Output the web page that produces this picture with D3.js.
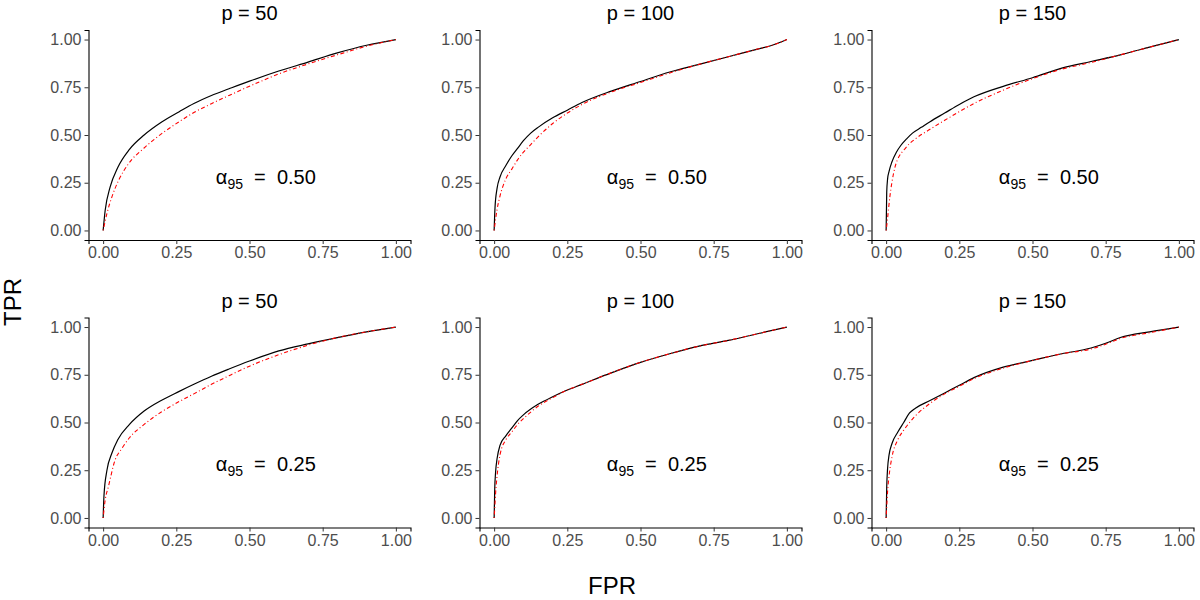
<!DOCTYPE html>
<html>
<head>
<meta charset="utf-8">
<script src="https://cdn.jsdelivr.net/npm/d3@7"></script>
<style>
  body { margin: 0; background: #fff; }
  svg { font-family: "Liberation Sans", Arial, sans-serif; }
  svg .tick text { font-size: 16px; }
</style>
</head>
<body>
<svg id="chart" width="1200" height="600"></svg>
<script>
// facet labels
var pValues = [50, 100, 150];
var alphaLabels = ["0.50", "0.25"];
var axisTicks = [0, 0.25, 0.5, 0.75, 1];

// row 1, alpha95 = 0.50
var p50a50SolidFpr = [0, 0.007, 0.024, 0.05, 0.09, 0.14, 0.2, 0.26, 0.31, 0.37, 0.43, 0.5, 0.6, 0.7, 0.8, 0.9, 1];
var p50a50SolidTpr = [0, 0.106, 0.228, 0.33, 0.425, 0.50, 0.568, 0.622, 0.665, 0.707, 0.742, 0.782, 0.835, 0.882, 0.93, 0.97, 1];
var p50a50DashFpr  = [0, 0.013, 0.03, 0.053, 0.087, 0.14, 0.2, 0.26, 0.31, 0.37, 0.43, 0.54, 0.6, 0.7, 0.8, 0.9, 1];
var p50a50DashTpr  = [0, 0.089, 0.176, 0.263, 0.35, 0.432, 0.507, 0.57, 0.618, 0.664, 0.707, 0.782, 0.82, 0.872, 0.92, 0.965, 1];

var p100a50SolidFpr = [0, 0.003, 0.01, 0.02, 0.04, 0.06, 0.08, 0.1, 0.125, 0.15, 0.2, 0.25, 0.3, 0.4, 0.5, 0.6, 0.7, 0.8, 0.9, 0.95, 1];
var p100a50SolidTpr = [0, 0.12, 0.22, 0.28, 0.34, 0.39, 0.43, 0.47, 0.51, 0.54, 0.59, 0.63, 0.67, 0.73, 0.78, 0.83, 0.87, 0.91, 0.95, 0.97, 1];
var p100a50DashFpr  = [0, 0.005, 0.01, 0.02, 0.04, 0.06, 0.08, 0.1, 0.125, 0.15, 0.2, 0.25, 0.3, 0.4, 0.5, 0.6, 0.7, 0.8, 0.9, 0.95, 1];
var p100a50DashTpr  = [0, 0.06, 0.11, 0.18, 0.27, 0.32, 0.37, 0.41, 0.45, 0.49, 0.56, 0.615, 0.66, 0.725, 0.775, 0.825, 0.87, 0.91, 0.95, 0.97, 1];

var p150a50SolidFpr = [0, 0.002, 0.005, 0.01, 0.02, 0.035, 0.05, 0.07, 0.09, 0.12, 0.15, 0.2, 0.25, 0.3, 0.4, 0.5, 0.6, 0.7, 0.8, 0.9, 1];
var p150a50SolidTpr = [0, 0.20, 0.27, 0.31, 0.36, 0.41, 0.445, 0.48, 0.51, 0.54, 0.57, 0.615, 0.66, 0.70, 0.755, 0.80, 0.85, 0.885, 0.92, 0.96, 1];
var p150a50DashFpr  = [0, 0.004, 0.008, 0.013, 0.019, 0.03, 0.045, 0.06, 0.08, 0.1, 0.15, 0.2, 0.25, 0.3, 0.4, 0.5, 0.6, 0.7, 0.8, 0.9, 1];
var p150a50DashTpr  = [0, 0.05, 0.11, 0.18, 0.245, 0.33, 0.39, 0.42, 0.455, 0.48, 0.53, 0.577, 0.622, 0.665, 0.735, 0.795, 0.845, 0.88, 0.92, 0.96, 1];

// row 2, alpha95 = 0.25
var p50a25SolidFpr = [0, 0.003, 0.013, 0.03, 0.05, 0.09, 0.14, 0.2, 0.26, 0.31, 0.37, 0.43, 0.5, 0.6, 0.7, 0.8, 0.9, 1];
var p50a25SolidTpr = [0, 0.12, 0.25, 0.34, 0.41, 0.49, 0.56, 0.617, 0.663, 0.70, 0.742, 0.78, 0.822, 0.875, 0.912, 0.945, 0.975, 1];
var p50a25DashFpr  = [0, 0.007, 0.018, 0.04, 0.064, 0.09, 0.14, 0.2, 0.26, 0.31, 0.37, 0.43, 0.5, 0.6, 0.7, 0.8, 0.9, 1];
var p50a25DashTpr  = [0, 0.094, 0.164, 0.30, 0.364, 0.42, 0.49, 0.556, 0.61, 0.65, 0.70, 0.745, 0.795, 0.855, 0.905, 0.945, 0.975, 1];

var p100a25Fpr      = [0, 0.002, 0.005, 0.01, 0.02, 0.04, 0.06, 0.08, 0.1, 0.15, 0.2, 0.25, 0.3, 0.4, 0.5, 0.6, 0.7, 0.8, 0.9, 1];
var p100a25SolidTpr = [0, 0.15, 0.24, 0.31, 0.38, 0.43, 0.47, 0.51, 0.54, 0.595, 0.635, 0.67, 0.70, 0.76, 0.815, 0.86, 0.90, 0.93, 0.965, 1];
var p100a25DashTpr  = [0, 0.05, 0.13, 0.22, 0.33, 0.41, 0.45, 0.49, 0.52, 0.585, 0.63, 0.67, 0.70, 0.76, 0.815, 0.86, 0.90, 0.93, 0.965, 1];

var p150a25Fpr      = [0, 0.002, 0.005, 0.01, 0.02, 0.04, 0.06, 0.08, 0.1, 0.15, 0.2, 0.25, 0.3, 0.4, 0.5, 0.6, 0.7, 0.75, 0.8, 0.9, 1];
var p150a25SolidTpr = [0, 0.16, 0.26, 0.33, 0.39, 0.45, 0.50, 0.55, 0.575, 0.615, 0.655, 0.695, 0.735, 0.79, 0.825, 0.86, 0.89, 0.915, 0.945, 0.975, 1];
var p150a25DashTpr  = [0, 0.06, 0.14, 0.22, 0.32, 0.41, 0.46, 0.50, 0.535, 0.60, 0.65, 0.69, 0.73, 0.785, 0.825, 0.86, 0.885, 0.91, 0.94, 0.97, 1];

function zip(xs, ys) {
    return xs.map(function (x, i) { return { x: x, y: ys[i] }; });
}

var panels = [
    { row: 0, col: 0, solid: zip(p50a50SolidFpr, p50a50SolidTpr), dash: zip(p50a50DashFpr, p50a50DashTpr) },
    { row: 0, col: 1, solid: zip(p100a50SolidFpr, p100a50SolidTpr), dash: zip(p100a50DashFpr, p100a50DashTpr) },
    { row: 0, col: 2, solid: zip(p150a50SolidFpr, p150a50SolidTpr), dash: zip(p150a50DashFpr, p150a50DashTpr) },
    { row: 1, col: 0, solid: zip(p50a25SolidFpr, p50a25SolidTpr), dash: zip(p50a25DashFpr, p50a25DashTpr) },
    { row: 1, col: 1, solid: zip(p100a25Fpr, p100a25SolidTpr), dash: zip(p100a25Fpr, p100a25DashTpr) },
    { row: 1, col: 2, solid: zip(p150a25Fpr, p150a25SolidTpr), dash: zip(p150a25Fpr, p150a25DashTpr) }
];

// panel geometry
var colLeft = [88.5, 479.5, 871.5];
var rowTop = [30, 317.5];
var panelW = 322;
var panelH = 210;

var svg = d3.select("#chart");

function styleAxis(a) {
    a.attr("font-family", "Liberation Sans, Arial, sans-serif").attr("font-size", 16);
    a.selectAll(".domain").attr("stroke", "#000").attr("stroke-width", 1.1);
    a.selectAll(".tick line").attr("stroke", "#333");
    a.selectAll(".tick text")
        .attr("font-size", 16)
        .attr("fill", "#4d4d4d");
}

panels.forEach(function (p) {
    var left = colLeft[p.col];
    var top = rowTop[p.row];

    var x = d3.scaleLinear().domain([-0.05, 1.05]).range([0, panelW]);
    var y = d3.scaleLinear().domain([-0.05, 1.05]).range([panelH, 0]);

    var g = svg.append("g").attr("transform", "translate(" + left + "," + top + ")");

    g.append("g")
        .attr("transform", "translate(0," + panelH + ")")
        .call(d3.axisBottom(x).tickValues(axisTicks).tickFormat(d3.format(".2f")).tickSizeOuter(0).tickSize(4).tickPadding(3))
        .call(styleAxis);

    g.append("g")
        .call(d3.axisLeft(y).tickValues(axisTicks).tickFormat(d3.format(".2f")).tickSizeOuter(0).tickSize(4).tickPadding(3))
        .call(styleAxis);

    var line = d3.line()
        .x(function (d) { return x(d.x); })
        .y(function (d) { return y(d.y); })
        .curve(d3.curveMonotoneX);

    g.append("path")
        .datum(p.solid)
        .attr("d", line)
        .attr("fill", "none")
        .attr("stroke", "#000")
        .attr("stroke-width", 1.2);

    g.append("path")
        .datum(p.dash)
        .attr("d", line)
        .attr("fill", "none")
        .attr("stroke", "#ff0000")
        .attr("stroke-width", 1.1)
        .attr("stroke-dasharray", "1,2.5,4,2.5");

    // facet title
    g.append("text")
        .attr("x", panelW / 2)
        .attr("y", -10)
        .attr("text-anchor", "middle")
        .attr("font-size", "20px")
        .attr("fill", "#000")
        .text("p = " + pValues[p.col]);

    // alpha annotation
    var ann = g.append("text")
        .attr("x", x(0.385))
        .attr("y", y(0.245))
        .attr("font-size", "20px")
        .attr("fill", "#000")
        .attr("xml:space", "preserve");
    ann.append("tspan").text("\u03b1");
    ann.append("tspan").attr("font-size", "14px").attr("dy", 5).text("95");
    ann.append("tspan").attr("dy", -5).text("  =  " + alphaLabels[p.row]);
});

svg.append("text")
    .attr("transform", "translate(21,302) rotate(-90)")
    .attr("text-anchor", "middle")
    .attr("font-size", "24px")
    .attr("fill", "#000")
    .text("TPR");

svg.append("text")
    .attr("x", 612)
    .attr("y", 594)
    .attr("text-anchor", "middle")
    .attr("font-size", "24px")
    .attr("fill", "#000")
    .text("FPR");
</script>
</body>
</html>
